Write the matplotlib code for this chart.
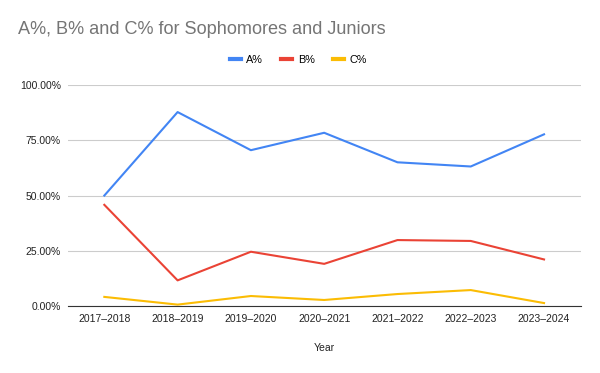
import matplotlib
matplotlib.use("Agg")
import matplotlib.pyplot as plt
from matplotlib.ticker import FuncFormatter
from matplotlib.lines import Line2D

years = ["2017–2018", "2018–2019", "2019–2020", "2020–2021", "2021–2022", "2022–2023", "2023–2024"]
a_pct = [0.500, 0.879, 0.706, 0.785, 0.651, 0.632, 0.778]
b_pct = [0.458, 0.115, 0.245, 0.190, 0.298, 0.294, 0.210]
c_pct = [0.040, 0.005, 0.044, 0.026, 0.053, 0.071, 0.012]
series_names = ["A%", "B%", "C%"]
colors = ["#4285F4", "#EA4335", "#FBBC04"]

plt.rcParams['font.family'] = ['Liberation Sans', 'DejaVu Sans']

fig = plt.figure(figsize=(6, 3.73), dpi=100)
ax = fig.add_axes([0.1128, 0.1804, 0.855, 0.5906])

x = list(range(len(years)))
for vals, col, name in zip([a_pct, b_pct, c_pct], colors, series_names):
    ax.plot(x, vals, color=col, lw=1.5, label=name, zorder=3, solid_joinstyle='round')

ax.set_xlim(-0.5, len(years) - 0.5)
ax.set_ylim(0, 1.0)
ax.set_yticks([0, 0.25, 0.5, 0.75, 1.0])
ax.yaxis.set_major_formatter(FuncFormatter(lambda v, p: f"{v*100:.2f}%"))
ax.set_xticks(x)
ax.set_xticklabels(years)
ax.grid(axis='y', color='#cccccc', lw=0.8, zorder=0)
for s in ['top', 'right', 'left']:
    ax.spines[s].set_visible(False)
ax.spines['bottom'].set_color('#333333')
ax.spines['bottom'].set_linewidth(0.8)
ax.spines['bottom'].set_zorder(4)
ax.tick_params(axis='both', length=0, labelsize=7.5, colors='#222222')
ax.tick_params(axis='y', pad=5)
ax.tick_params(axis='x', pad=6)
ax.set_xlabel("Year", fontsize=7.5, color='#222222', labelpad=14)

fig.text(0.03, 0.92, "A%, B% and C% for Sophomores and Juniors", fontsize=13.1,
         color='#757575', ha='left', va='center')

handles = [Line2D([0], [0], color=c, lw=3) for c in colors]
fig.legend(handles, series_names, loc='center', bbox_to_anchor=(0.497, 0.84), ncol=3,
           frameon=False, fontsize=7.8, handlelength=1.0, handletextpad=0.5,
           columnspacing=1.7)

fig.savefig("out.png", dpi=100, facecolor='white')
